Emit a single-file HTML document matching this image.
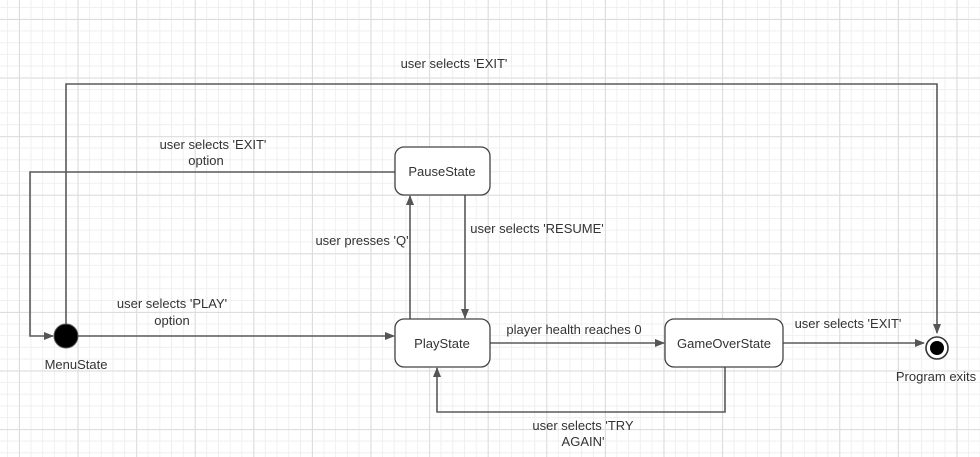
<!DOCTYPE html>
<html><head><style>
body{margin:0;width:980px;height:457px;overflow:hidden;background:#fff;
background-image:linear-gradient(to right,#dcdcdc 1px,transparent 1px),linear-gradient(to bottom,#dcdcdc 1px,transparent 1px),linear-gradient(to right,#efefef 1px,transparent 1px),linear-gradient(to bottom,#efefef 1px,transparent 1px);
background-size:58.6px 58.6px,58.6px 58.6px,11.72px 11.72px,11.72px 11.72px;
background-position:19px 19px,19px 19px,7px 7px,7px 7px;font-family:"Liberation Sans",sans-serif}
svg{position:absolute;left:0;top:0}
text{font-size:13px;fill:#333;font-family:"Liberation Sans",sans-serif}
</style></head><body>
<svg width="980" height="457">
<defs><marker id="a" markerWidth="10" markerHeight="8" refX="9" refY="4" orient="auto" markerUnits="userSpaceOnUse"><path d="M0,0 L10,4 L0,8 z" fill="#555"/></marker></defs>
<g stroke="#5a5a5a" stroke-width="1.6" fill="none">
<path d="M66,324 V84 H937 V333" marker-end="url(#a)"/>
<path d="M395,172 H30 V336 H53" marker-end="url(#a)"/>
<path d="M78,336 H394" marker-end="url(#a)"/>
<path d="M410,319 V196" marker-end="url(#a)"/>
<path d="M465,195 V318" marker-end="url(#a)"/>
<path d="M490,343 H664" marker-end="url(#a)"/>
<path d="M783,343 H924" marker-end="url(#a)"/>
<path d="M725,367 V412 H437 V368" marker-end="url(#a)"/>
</g>
<circle cx="66" cy="336" r="12" fill="#000" stroke="#555" stroke-width="1"/>
<circle cx="937" cy="348" r="11" fill="#fff" stroke="#333" stroke-width="1.6"/>
<circle cx="937" cy="348" r="7" fill="#000"/>
<g fill="#fff" stroke="#444" stroke-width="1.3">
<rect x="395" y="147" width="95" height="48" rx="9"/>
<rect x="395" y="319" width="95" height="48" rx="9"/>
<rect x="665" y="319" width="118" height="48" rx="9"/>
</g>
<g text-anchor="middle">
<text x="442" y="176">PauseState</text>
<text x="442" y="348">PlayState</text>
<text x="724" y="348">GameOverState</text>
<text x="76" y="369">MenuState</text>
<text x="936" y="381">Program exits</text>
<text x="454" y="68">user selects 'EXIT'</text>
<text x="213" y="149">user selects 'EXIT'</text>
<text x="206" y="165">option</text>
<text x="172" y="308">user selects 'PLAY'</text>
<text x="172" y="325">option</text>
<text x="362" y="245">user presses 'Q'</text>
<text x="537" y="233">user selects 'RESUME'</text>
<text x="574" y="334">player health reaches 0</text>
<text x="848" y="328">user selects 'EXIT'</text>
<text x="583" y="430">user selects 'TRY</text>
<text x="583" y="446">AGAIN'</text>
</g>
</svg>
</body></html>
